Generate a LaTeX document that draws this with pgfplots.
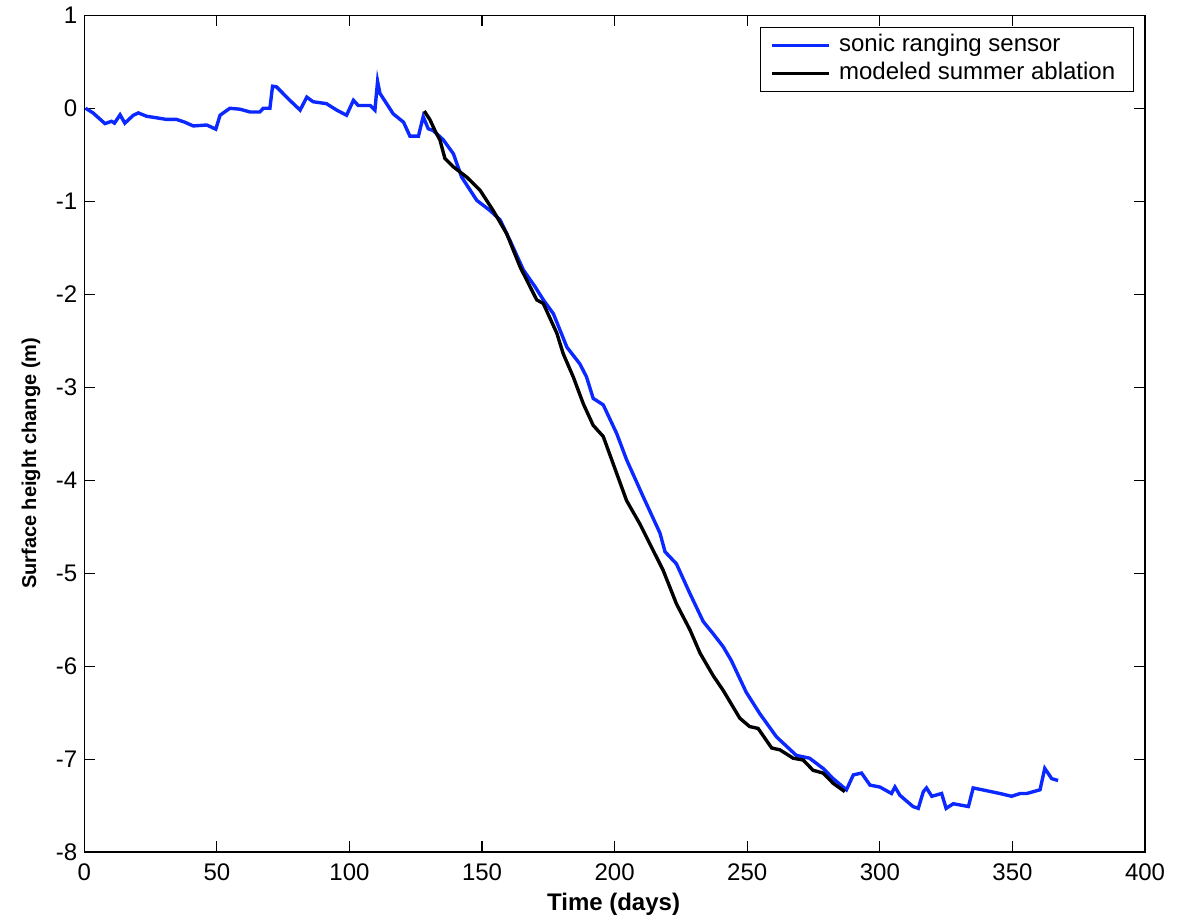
\documentclass[border=0pt]{standalone}
\usepackage{pgfplots}
\pgfplotsset{compat=1.18}
\usepackage{fontspec}
\setmainfont{Liberation Sans}
\definecolor{mblue}{RGB}{10,40,255}
\begin{document}
\begin{tikzpicture}
\begin{axis}[
  scale only axis,
  width=530.5pt, height=418.5pt,
  xmin=0, xmax=400, ymin=-8, ymax=1,
  xtick={0,50,...,400}, ytick={-8,-7,...,1},
  tick align=inside,
  major tick length=5.5pt,
  axis line style={line width=0.6pt, black},
  tick style={line width=0.6pt, black},
  /pgf/number format/assume math mode=true,
  ticklabel style={font=\fontsize{12}{14}\selectfont},
  xticklabel style={yshift=-2.4pt},
  xlabel={Time (days)},
  ylabel={Surface height change (m)},
  xlabel style={font=\fontsize{12}{14}\selectfont\bfseries, at={(axis description cs:0.499,0)}, anchor=center, yshift=-26.3pt},
  ylabel style={font=\fontsize{10}{12}\selectfont\bfseries, at={(axis description cs:0,0.4645)}, anchor=center, yshift=26.6pt},
  legend cell align=left,
  legend image code/.code={\path (0pt,0pt) -- (28.5pt,0pt); \draw[#1] (4pt,0pt) -- (26.5pt,0pt);},
  legend style={at={(0.9894,0.9857)}, anchor=north east, draw=black, line width=0.6pt,
    font=\fontsize{12}{14}\selectfont, inner xsep=5pt, inner ysep=1.9pt,
    nodes={text height=9pt, text depth=3pt, inner ysep=1pt, inner xsep=4pt},
    row sep=0pt},
]
\coordinate (bl) at (rel axis cs:0,0);
\coordinate (tr) at (rel axis cs:1,1);
\addplot[mblue, line width=1.7pt] coordinates {
(0.5,0.00) (3.3,-0.05) (7.8,-0.165) (10.3,-0.14) (11.4,-0.16) (13.5,-0.07) (15.3,-0.16)
(18.5,-0.075) (20.4,-0.05) (23.5,-0.086) (26.7,-0.10) (31.0,-0.12) (34.8,-0.12) (37.9,-0.15)
(41.1,-0.19) (46.2,-0.18) (49.6,-0.225) (51.2,-0.075) (54.9,0.0) (58.7,-0.01) (62.5,-0.04)
(66.2,-0.04) (67.5,0.0) (70.0,0.0) (71.0,0.237) (72.5,0.23) (77.5,0.086) (81.4,-0.02)
(83.9,0.12) (86.3,0.07) (91.3,0.05) (95.2,-0.02) (98.9,-0.075) (101.5,0.086) (103.3,0.03)
(107.8,0.03) (109.6,-0.02) (110.6,0.29) (111.5,0.16) (116.5,-0.06) (120.4,-0.15)
(122.8,-0.30) (126.0,-0.30) (127.8,-0.09) (129.7,-0.22) (131.6,-0.24) (135.4,-0.34)
(139.2,-0.49) (142.3,-0.74) (148.0,-0.99) (153.0,-1.10) (156.8,-1.20) (160.5,-1.42)
(165.6,-1.74) (170.0,-1.92) (173.1,-2.06) (176.9,-2.21) (182.0,-2.57) (186.9,-2.75)
(189.4,-2.89) (191.9,-3.12) (195.7,-3.19) (200.8,-3.50) (204.5,-3.78) (210.8,-4.18)
(217.1,-4.57) (219.0,-4.77) (223.3,-4.90) (228.4,-5.22) (233.4,-5.52) (237.1,-5.65)
(240.9,-5.79) (244.0,-5.94) (249.6,-6.28) (254.7,-6.51) (261.0,-6.76) (268.5,-6.96)
(273.5,-6.99) (278.6,-7.10) (282.4,-7.21) (287.4,-7.33) (290.0,-7.17) (293.1,-7.15)
(296.3,-7.28) (300.0,-7.30) (304.4,-7.37) (305.7,-7.30) (307.6,-7.39) (312.5,-7.51)
(314.5,-7.53) (316.4,-7.35) (317.6,-7.31) (319.6,-7.40) (323.3,-7.37) (325.0,-7.53)
(327.7,-7.48) (333.4,-7.51) (335.2,-7.31) (340.3,-7.34) (345.3,-7.37) (349.7,-7.40)
(352.9,-7.37) (355.4,-7.37) (360.4,-7.33) (362.2,-7.10) (364.8,-7.21) (367.2,-7.23)
};
\addlegendentry{sonic ranging sensor}
\addplot[black, line width=1.7pt] coordinates {
(128.2,-0.03) (130.3,-0.12) (132.4,-0.25) (134.1,-0.34) (136.0,-0.54) (139.2,-0.63)
(144.2,-0.74) (149.2,-0.88) (154.2,-1.10) (159.3,-1.35) (164.4,-1.71) (170.6,-2.06)
(173.1,-2.10) (178.2,-2.42) (180.6,-2.64) (184.4,-2.89) (188.2,-3.18) (191.9,-3.41)
(195.7,-3.53) (200.8,-3.93) (204.5,-4.22) (209.5,-4.47) (213.2,-4.68) (218.3,-4.97)
(223.3,-5.33) (228.4,-5.61) (232.2,-5.86) (237.1,-6.10) (240.9,-6.26) (247.2,-6.56)
(250.9,-6.65) (254.1,-6.67) (259.2,-6.88) (262.3,-6.90) (267.3,-6.99) (271.1,-7.01)
(274.8,-7.12) (278.6,-7.15) (282.4,-7.26) (286.8,-7.35)
};
\addlegendentry{modeled summer ablation}
\end{axis}
\pgfresetboundingbox
\path[use as bounding box] ([xshift=-42.15pt,yshift=-33.85pt]bl) rectangle ([xshift=20.5pt,yshift=7.65pt]tr);
\end{tikzpicture}
\end{document}
